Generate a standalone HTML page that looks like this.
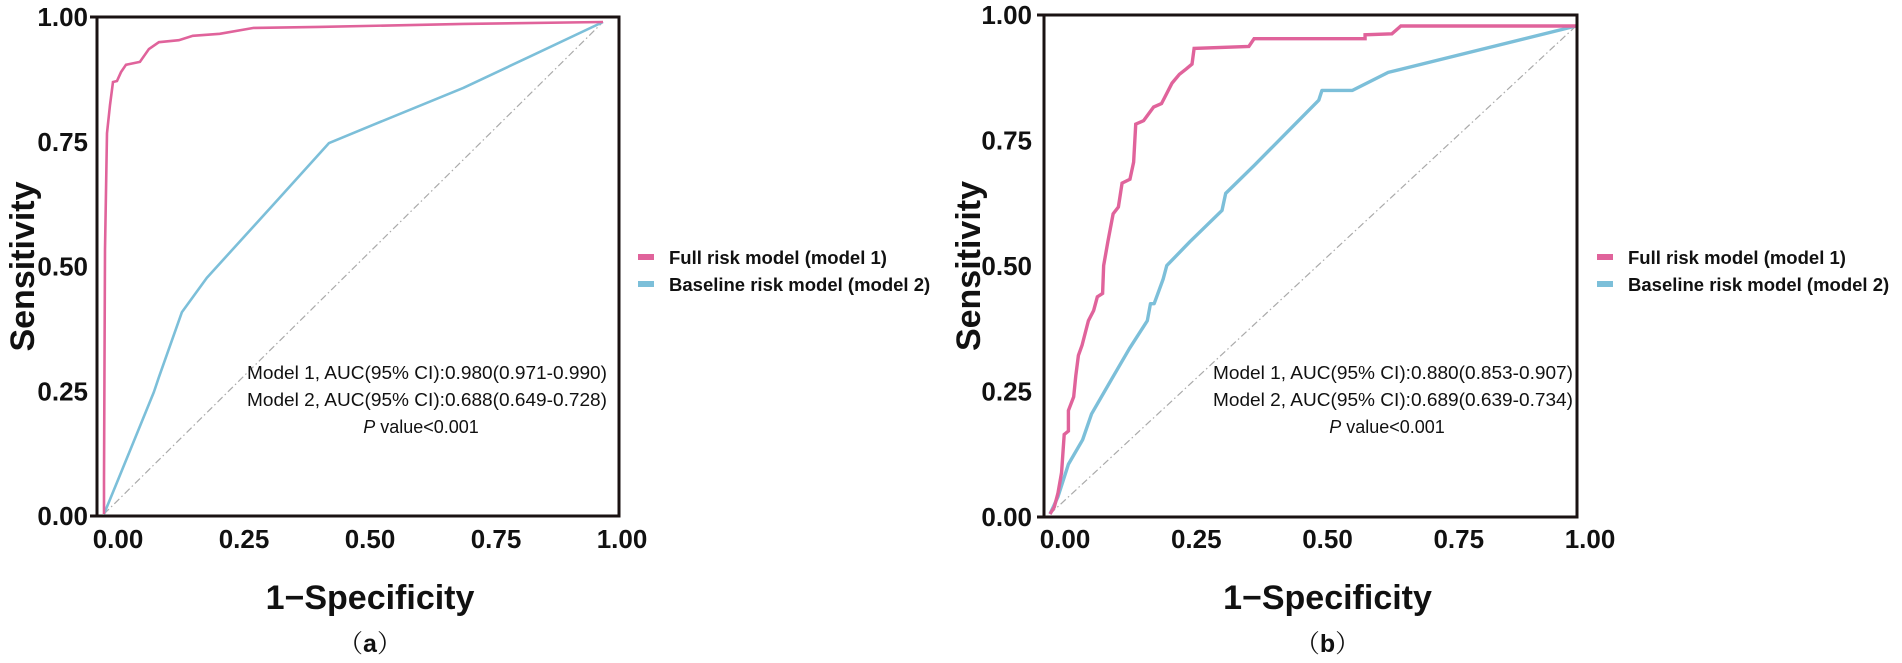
<!DOCTYPE html>
<html><head><meta charset="utf-8">
<style>
html,body{margin:0;padding:0;background:#fff;}
svg{display:block;font-family:"Liberation Sans",Arial,sans-serif;}
</style></head>
<body>
<svg id="fig" width="1902" height="663" viewBox="0 0 1902 663" xmlns="http://www.w3.org/2000/svg"></svg>
<script>
// ---- Data ----
const tickLabels = ["0.00","0.25","0.50","0.75","1.00"];
const tickValues = [0,0.25,0.5,0.75,1];
const aFullFpr = [0,0,0.002,0.006,0.012,0.018,0.026,0.034,0.044,0.072,0.09,0.11,0.15,0.178,0.232,0.30,0.43,0.72,1];
const aFullTpr = [0,0.07,0.537,0.774,0.831,0.878,0.880,0.898,0.913,0.919,0.945,0.959,0.963,0.972,0.976,0.988,0.990,0.996,1];
const aBaseFpr = [0,0.028,0.10,0.11,0.156,0.206,0.353,0.451,0.537,0.72,0.854,1];
const aBaseTpr = [0,0.069,0.248,0.278,0.41,0.48,0.644,0.754,0.79,0.866,0.93,1];
const bFullFpr = [0,0.008,0.015,0.022,0.027,0.035,0.035,0.045,0.049,0.054,0.061,0.073,0.083,0.090,0.100,0.102,0.110,0.120,0.130,0.137,0.152,0.159,0.163,0.178,0.197,0.212,0.222,0.232,0.246,0.259,0.270,0.274,0.378,0.388,0.599,0.599,0.650,0.667,1];
const bFullTpr = [0,0.014,0.042,0.085,0.163,0.170,0.212,0.240,0.283,0.325,0.346,0.396,0.417,0.445,0.452,0.509,0.558,0.615,0.629,0.678,0.686,0.721,0.799,0.806,0.834,0.841,0.862,0.883,0.901,0.912,0.922,0.954,0.958,0.974,0.974,0.982,0.984,1,1];
const bBaseFpr = [0,0.015,0.035,0.062,0.079,0.117,0.151,0.185,0.191,0.198,0.215,0.222,0.266,0.327,0.334,0.388,0.511,0.517,0.575,0.643,1];
const bBaseTpr = [0,0.035,0.102,0.152,0.205,0.276,0.339,0.396,0.431,0.431,0.481,0.509,0.558,0.622,0.657,0.714,0.848,0.868,0.868,0.905,1];
const annA = ["Model 1, AUC(95% CI):0.980(0.971-0.990)","Model 2, AUC(95% CI):0.688(0.649-0.728)"];
const annB = ["Model 1, AUC(95% CI):0.880(0.853-0.907)","Model 2, AUC(95% CI):0.689(0.639-0.734)"];

const NS="http://www.w3.org/2000/svg";
const svg=document.getElementById('fig');
const PINK="#e0639b", BLUE="#7cbfd9";
function mk(tag,attrs,parent){const e=document.createElementNS(NS,tag);for(const k in attrs)e.setAttribute(k,attrs[k]);(parent||svg).appendChild(e);return e;}

const panels=[
 {key:'a',box:[97,17,619,516],x0:104,x1:603,y0:514,y1:22,lw:2.6,fullF:aFullFpr,fullT:aFullTpr,baseF:aBaseFpr,baseT:aBaseTpr,ann:annA,annX:427,
  xl:[118,622],ylRight:88,sensX:22,legX:638,cap:"a"},
 {key:'b',box:[1044,15,1577,517],x0:1050,x1:1576,y0:514,y1:26,lw:3.4,fullF:bFullFpr,fullT:bFullTpr,baseF:bBaseFpr,baseT:bBaseTpr,ann:annB,annX:1393,
  xl:[1065,1590],ylRight:1032,sensX:968,legX:1597,cap:"b"}
];

panels.forEach(p=>{
 const g=mk('g',{});
 
 
 const sx=v=>p.x0+v*(p.x1-p.x0);
 const sy=v=>p.y0-v*(p.y0-p.y1);
 const d=mk('line',{x1:sx(0),y1:sy(0),x2:sx(1),y2:sy(1),stroke:"#aaaaaa","stroke-width":1.2,"stroke-dasharray":"7,3,1.5,3"},g);
 
 
 const pb=mk('polyline',{points:p.baseF.map((f,i)=>sx(f)+","+sy(p.baseT[i])).join(" "),fill:"none",stroke:BLUE,"stroke-width":p.lw,"stroke-linejoin":"round"},g);
 
 
 const pf=mk('polyline',{points:p.fullF.map((f,i)=>sx(f)+","+sy(p.fullT[i])).join(" "),fill:"none",stroke:PINK,"stroke-width":p.lw,"stroke-linejoin":"miter"},g);
 
 
 const [L,T,R,B]=p.box;
 const bx=mk('rect',{x:L,y:T,width:R-L,height:B-T,fill:"none",stroke:"#1a1212","stroke-width":3},g);
 
 
 tickValues.forEach((v,i)=>{
  const y=B-v*(B-T);
  const t=mk('text',{x:p.ylRight,y:y+9,"text-anchor":"end","font-size":26,"font-weight":"bold",fill:"#111"},g);
  t.textContent=tickLabels[i];
  
  
  if(i===0||i===4){const tk=mk('line',{x1:L-7,y1:y,x2:L,y2:y,stroke:"#1a1212","stroke-width":3},g);
   
   }
 });
 tickValues.forEach((v,i)=>{
  const x=p.xl[0]+v*(p.xl[1]-p.xl[0]);
  const t=mk('text',{x:x,y:548,"text-anchor":"middle","font-size":26,"font-weight":"bold",fill:"#111"},g);
  t.textContent=tickLabels[i];
  
  
 });
 const yt=mk('text',{x:p.sensX,y:(T+B)/2,"text-anchor":"middle","font-size":34,"font-weight":"bold",fill:"#111",transform:`rotate(-90 ${p.sensX} ${(T+B)/2}) translate(0 12)`},g);
 yt.textContent="Sensitivity";
 
 
 const xc=(p.xl[0]+p.xl[1])/2;
 const xt=mk('text',{x:xc,y:609,"text-anchor":"middle","font-size":34,"font-weight":"bold",fill:"#111"},g);
 xt.textContent="1\u2212Specificity";
 
 
 const cp=mk('text',{x:xc,y:652,"text-anchor":"middle","font-size":25,fill:"#111","font-family":"Liberation Serif, 'Noto Serif CJK SC', serif"},g);
 cp.innerHTML='（<tspan font-weight="bold" font-family="Liberation Sans, sans-serif">'+p.cap+'</tspan>）';
 
 
 p.ann.forEach((s,i)=>{
  const t=mk('text',{x:p.annX,y:379+i*27,"text-anchor":"middle","font-size":18,fill:"#111",textLength:360,lengthAdjust:"spacingAndGlyphs"},g);
  t.textContent=s;
  
  
 });
 const pv=mk('text',{x:p.annX-6,y:433,"text-anchor":"middle","font-size":18,fill:"#111"},g);
 pv.innerHTML='<tspan font-style="italic">P</tspan> value&lt;0.001';
 
 
 const lg=mk('g',{},g);
 
 
 [["Full risk model (model 1)",PINK,257],["Baseline risk model (model 2)",BLUE,284]].forEach(r=>{
  const sw=mk('rect',{x:p.legX,y:r[2]-3,width:16,height:6,fill:r[1]},lg);
  
  
  const t=mk('text',{x:p.legX+31,y:r[2]+7,"font-size":18.5,"font-weight":"bold",fill:"#111"},lg);
  t.textContent=r[0];
  
  
 });
});
</script>
</body></html>
